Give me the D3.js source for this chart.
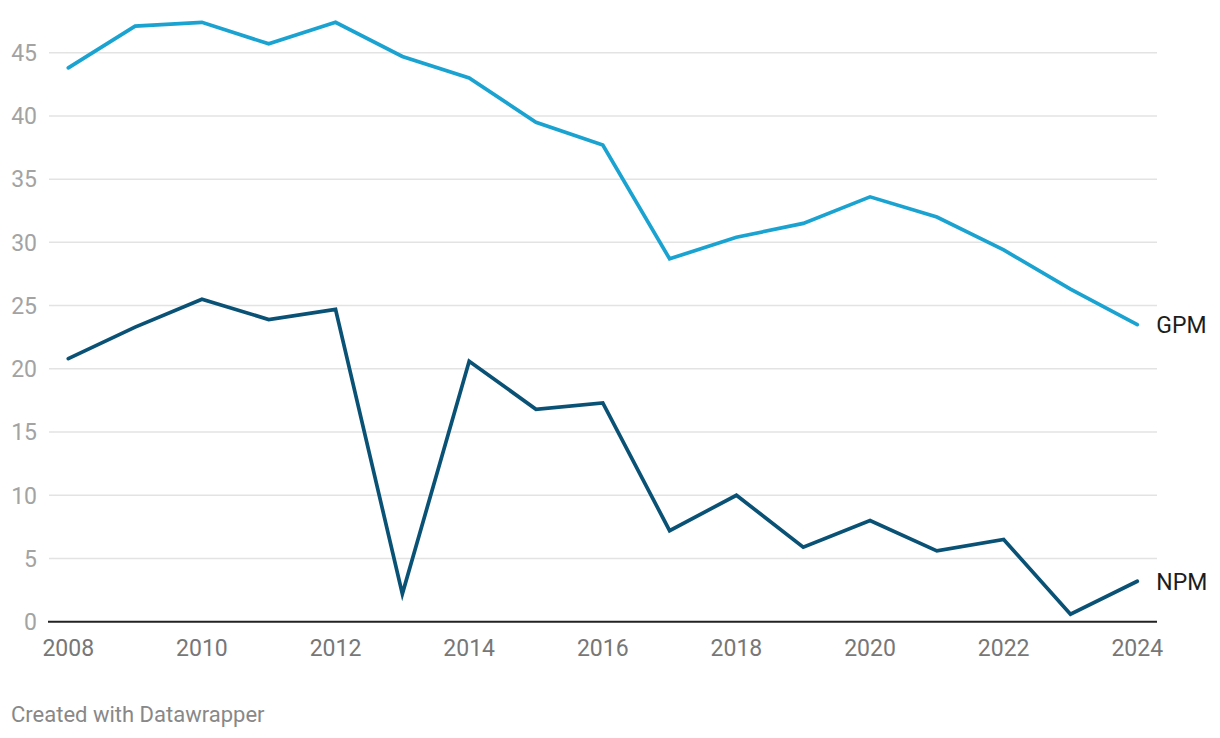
<!DOCTYPE html>
<html>
<head>
<meta charset="utf-8">
<script src="https://cdn.jsdelivr.net/npm/d3@7"></script>
<style>
  body { margin: 0; background: #fff; font-family: Roboto, "Noto Sans", sans-serif; }
</style>
</head>
<body>
<div id="chart"></div>
<script>
// years on the x axis
const years = [2008, 2009, 2010, 2011, 2012, 2013, 2014, 2015, 2016,
    2017, 2018, 2019, 2020, 2021, 2022, 2023, 2024];

// gross profit margin and net profit margin, in percent
const gpm = [43.8, 47.1, 47.4, 45.7, 47.4, 44.7, 43.0, 39.5, 37.7,
    28.7, 30.4, 31.5, 33.6, 32.0, 29.4, 26.3, 23.5];
const npm = [20.8, 23.3, 25.5, 23.9, 24.7, 2.2, 20.6, 16.8, 17.3,
    7.2, 10.0, 5.9, 8.0, 5.6, 6.5, 0.6, 3.2];

const yTicks = [0, 5, 10, 15, 20, 25, 30, 35, 40, 45];
const xTicks = [2008, 2010, 2012, 2014, 2016, 2018, 2020, 2022, 2024];

const seriesNames = ['GPM', 'NPM'];
const seriesColors = ['#1aa3d1', '#0a5275'];

const width = 1220;
const height = 738;

const svg = d3.select("#chart")
    .append("svg")
    .attr("width", width)
    .attr("height", height);

// plot area, left edge of the grid to right edge
const gridLeft = 49, gridRight = 1157;

const x = d3.scaleLinear()
    .domain([2008, 2024])
    .range([68.3, 1137.3]);

const y = d3.scaleLinear()
    .domain([0, 45])
    .range([621.7, 52.7]);

// horizontal gridlines
svg.append("g")
    .selectAll("line")
    .data(yTicks.filter(d => d !== 0))
    .join("line")
    .attr("x1", gridLeft)
    .attr("x2", gridRight)
    .attr("y1", d => y(d))
    .attr("y2", d => y(d))
    .attr("stroke", "#e3e3e3")
    .attr("stroke-width", 1.5);

// y tick labels
svg.append("g")
    .selectAll("text")
    .data(yTicks)
    .join("text")
    .attr("x", 37)
    .attr("y", d => y(d))
    .attr("dy", "0.36em")
    .attr("text-anchor", "end")
    .attr("fill", "#a3a3a3")
    .attr("font-size", "23px")
    .text(d => d);

// baseline at zero
svg.append("line")
    .attr("x1", gridLeft - 1)
    .attr("x2", gridRight)
    .attr("y1", y(0))
    .attr("y2", y(0))
    .attr("stroke", "#222")
    .attr("stroke-width", 2);

// x tick labels
svg.append("g")
    .selectAll("text")
    .data(xTicks)
    .join("text")
    .attr("x", d => x(d))
    .attr("y", 656)
    .attr("text-anchor", "middle")
    .attr("fill", "#777")
    .attr("font-size", "23px")
    .text(d => d);

const line = d3.line()
    .x((d, i) => x(years[i]))
    .y(d => y(d));

[gpm, npm].forEach((values, k) => {
    svg.append("path")
        .datum(values)
        .attr("d", line)
        .attr("fill", "none")
        .attr("stroke", seriesColors[k])
        .attr("stroke-width", 3.7)
        .attr("stroke-linejoin", "miter")
        .attr("stroke-linecap", "round");

    // direct label next to the last point
    svg.append("text")
        .attr("x", x(years[years.length - 1]) + 19)
        .attr("y", y(values[values.length - 1]))
        .attr("dy", "0.36em")
        .attr("fill", "#1d1d1d")
        .attr("font-size", "23px")
        .text(seriesNames[k]);
});

svg.append("text")
    .attr("x", 11)
    .attr("y", 722)
    .attr("fill", "#888")
    .attr("font-size", "22px")
    .text("Created with Datawrapper");
</script>
</body>
</html>
